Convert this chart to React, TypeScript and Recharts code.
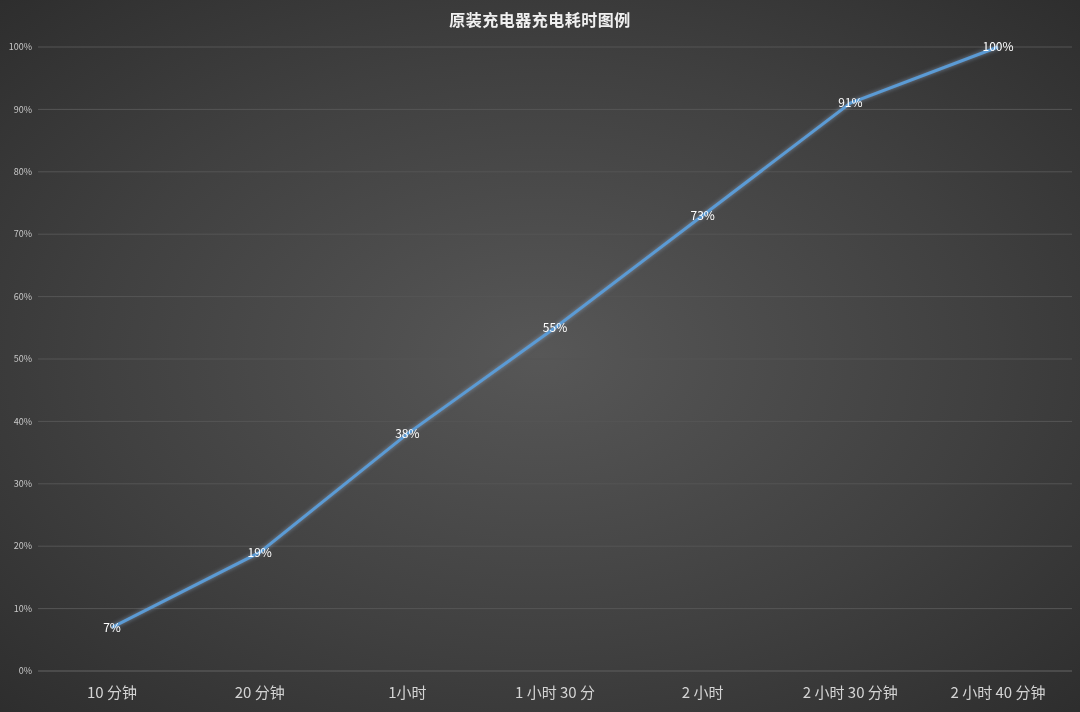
import React from 'react';
import { LineChart, Line, XAxis, YAxis, CartesianGrid, LabelList } from 'recharts';

const categories = ['10 分钟', '20 分钟', '1小时', '1 小时 30 分', '2 小时', '2 小时 30 分钟', '2 小时 40 分钟'];
const charge = [7, 19, 38, 55, 73, 91, 100];
const yTicks = [0, 10, 20, 30, 40, 50, 60, 70, 80, 90, 100];

const data = categories.map((name, i) => ({ name, charge: charge[i] }));

const FONT = '"Noto Sans CJK SC", "Noto Sans", sans-serif';

export default function App() {
    return (
        <div
            style={{
                position: 'fixed',
                left: 0,
                top: 0,
                width: 1080,
                height: 712,
                overflow: 'hidden',
                background: 'radial-gradient(ellipse 75% 75% at 50% 50%, #575757 0%, #404040 55%, #2b2b2b 100%)',
                fontFamily: FONT,
            }}
        >
            <style>{`.glow-line path { filter: drop-shadow(0 0 2px rgba(170, 200, 240, 0.55)); }`}</style>
            <div
                style={{
                    position: 'absolute',
                    top: 7,
                    left: 0,
                    width: 1080,
                    textAlign: 'center',
                    color: '#f0f0f0',
                    fontSize: 16,
                    fontWeight: 700,
                    letterSpacing: 0.5,
                }}
            >
                原装充电器充电耗时图例
            </div>
            <LineChart width={1080} height={712} data={data} margin={{ top: 47, right: 8, left: 8, bottom: 11 }}>
                <CartesianGrid stroke="#555555" strokeWidth={1} vertical={false} />
                <XAxis
                    dataKey="name"
                    padding={{ left: 74, right: 74 }}
                    axisLine={{ stroke: '#555555' }}
                    tickLine={false}
                    tickMargin={10}
                    height={30}
                    interval={0}
                    tick={{ fill: '#d4d4d4', fontSize: 15, fontFamily: FONT }}
                />
                <YAxis
                    domain={[0, 100]}
                    ticks={yTicks}
                    width={30}
                    axisLine={false}
                    tickLine={false}
                    tickMargin={0}
                    interval={0}
                    tickFormatter={(v) => `${v}%`}
                    tick={{ fill: '#c8c8c8', fontSize: 9, fontFamily: FONT }}
                />
                <Line
                    className="glow-line"
                    type="linear"
                    dataKey="charge"
                    stroke="#5b9bd5"
                    strokeWidth={3}
                    dot={false}
                    activeDot={false}
                    isAnimationActive={false}
                >
                    <LabelList
                        dataKey="charge"
                        position="center"
                        formatter={(v: any) => `${v}%`}
                        fill="#ffffff"
                        fontSize={12}
                        fontFamily={FONT}
                    />
                </Line>
            </LineChart>
        </div>
    );
}
